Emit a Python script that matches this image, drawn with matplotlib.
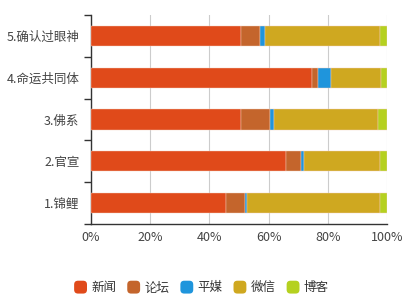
import matplotlib.pyplot as plt
import numpy as np
from matplotlib.patches import FancyBboxPatch
from matplotlib.legend_handler import HandlerPatch

plt.rcParams['font.family'] = ['Noto Sans CJK SC', 'DejaVu Sans']

categories = ['1.锦鲤', '2.官宣', '3.佛系', '4.命运共同体', '5.确认过眼神']
series_names = ['新闻', '论坛', '平媒', '微信', '博客']
news = [45.8, 65.9, 50.8, 74.7, 50.8]
forum = [6.2, 4.9, 9.8, 2.1, 6.2]
media = [0.8, 1.0, 1.2, 4.2, 1.9]
wechat = [44.9, 25.9, 35.2, 16.8, 38.8]
blog = [2.3, 2.3, 3.0, 2.2, 2.3]
colors = ['#e04a1a', '#c4652c', '#1f95dc', '#cfa820', '#b5d120']
xticks = [0, 20, 40, 60, 80, 100]


class RoundHandler(HandlerPatch):
    def create_artists(self, legend, orig, xdescent, ydescent, width, height, fontsize, trans):
        s = min(width, height) * 1.15
        x0 = -xdescent + (width - s) / 2
        y0 = -ydescent + (height - s) / 2
        p = FancyBboxPatch((x0, y0), s, s, boxstyle='round,pad=0,rounding_size=%f' % (s * 0.3),
                           facecolor=orig.get_facecolor(), edgecolor='none', transform=trans)
        return [p]


fig = plt.figure(figsize=(4.03, 3.05), dpi=100)
ax = fig.add_axes([0.2246, 0.2656, 0.7364, 0.6852])

y = np.arange(len(categories))
left = np.zeros(len(categories))
handles = []
for name, vals, c in zip(series_names, [news, forum, media, wechat, blog], colors):
    bars = ax.barh(y, vals, left=left, height=0.48, color=c, edgecolor='#f3d0c0',
                   linewidth=0.3, label=name, zorder=3)
    handles.append(bars[0])
    left = left + np.array(vals)

ax.set_xlim(0, 100)
ax.set_ylim(-0.5, len(categories) - 0.5)
ax.set_xticks(xticks)
ax.set_xticklabels(['%d%%' % v for v in xticks])
ax.set_yticks(y)
ax.set_yticklabels(categories)
ax.set_yticks(np.arange(-0.5, len(categories)), minor=True)
ax.tick_params(axis='y', which='major', length=0, pad=8, labelsize=9, labelcolor='#444444')
ax.tick_params(axis='y', which='minor', length=5, color='#333333', width=1)
ax.tick_params(axis='x', length=0, pad=5, labelsize=9, labelcolor='#444444')

ax.grid(axis='x', color='#cccccc', linewidth=0.8, zorder=0)
for s in ['top', 'right']:
    ax.spines[s].set_visible(False)
for s in ['left', 'bottom']:
    ax.spines[s].set_color('#333333')
    ax.spines[s].set_linewidth(1)

fig.legend(handles, series_names, loc='center', bbox_to_anchor=(0.5, 0.056), ncol=5,
           frameon=False, fontsize=9, handlelength=1.0, handleheight=1.0,
           handletextpad=0.35, columnspacing=0.9, labelcolor='#333333',
           handler_map={h: RoundHandler() for h in handles})

fig.savefig('out.png', dpi=100)
